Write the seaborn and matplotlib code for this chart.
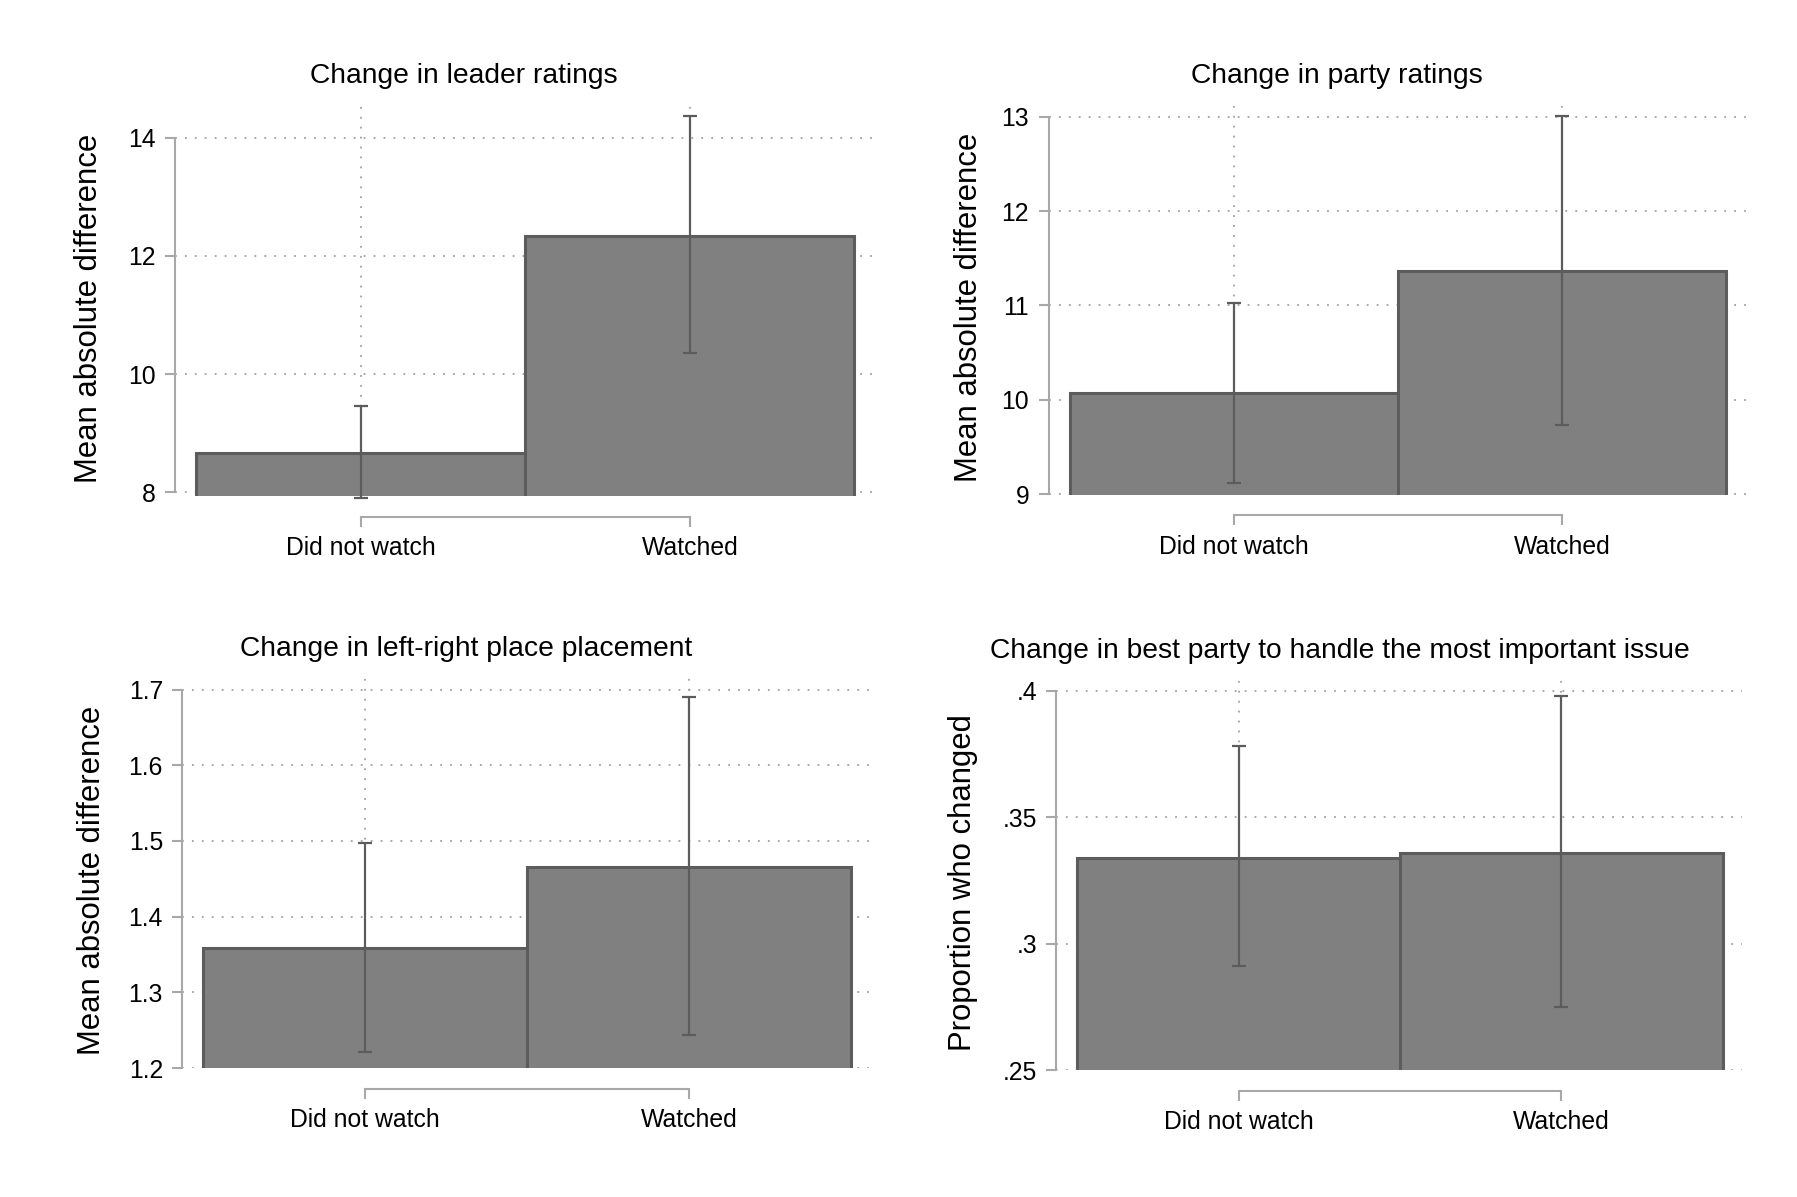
import numpy as np
import pandas as pd
import matplotlib
matplotlib.use("Agg")
import matplotlib.pyplot as plt
import seaborn as sns

categories = ["Did not watch", "Watched"]

# mean and confidence interval bounds
leader_mean = [8.67, 12.34]
leader_lo = [7.90, 10.36]
leader_hi = [9.46, 14.37]

party_mean = [10.07, 11.36]
party_lo = [9.12, 9.73]
party_hi = [11.03, 13.01]

lr_mean = [1.358, 1.465]
lr_lo = [1.221, 1.243]
lr_hi = [1.498, 1.690]

issue_mean = [0.334, 0.336]
issue_lo = [0.291, 0.275]
issue_hi = [0.378, 0.398]

titles = ["Change in leader ratings", "Change in party ratings",
          "Change in left-right place placement",
          "Change in best party to handle the most important issue"]
ylabels = ["Mean absolute difference", "Mean absolute difference",
           "Mean absolute difference", "Proportion who changed"]
yticks = [[8, 10, 12, 14], [9, 10, 11, 12, 13],
          [1.2, 1.3, 1.4, 1.5, 1.6, 1.7], [0.25, 0.30, 0.35, 0.40]]
yticklabels = [["8", "10", "12", "14"], ["9", "10", "11", "12", "13"],
               ["1.2", "1.3", "1.4", "1.5", "1.6", "1.7"],
               [".25", ".3", ".35", ".4"]]
ylims = [(7.937, 14.638), (8.995, 13.177), (1.2, 1.722), (0.25, 0.4064)]

sns.set_theme(style="white")
plt.rcParams["font.family"] = ["Liberation Sans", "DejaVu Sans"]
plt.rcParams["text.color"] = "black"
plt.rcParams["axes.labelcolor"] = "black"
plt.rcParams["xtick.labelcolor"] = "black"
plt.rcParams["ytick.labelcolor"] = "black"

W, H = 1797, 1197
fig = plt.figure(figsize=(W / 100, H / 100), dpi=100)

# panel boxes in pixels: left, right, top, bottom
boxes = [(175, 874, 100, 496), (1048.5, 1746, 100, 494.5),
         (182.4, 870, 673, 1068), (1056.4, 1742, 674.6, 1070)]
label_x = [-0.101, -0.093, -0.110, -0.114]

panels = [(leader_mean, leader_lo, leader_hi), (party_mean, party_lo, party_hi),
          (lr_mean, lr_lo, lr_hi), (issue_mean, issue_lo, issue_hi)]

spine_col = "#a8a8a8"
dark = "#5c5c5c"

for i, (means, lo, hi) in enumerate(panels):
    l, r, t, b = boxes[i]
    ax = fig.add_axes([l / W, 1 - b / H, (r - l) / W, (b - t) / H])
    df = pd.DataFrame({"group": categories, "value": means})
    sns.barplot(data=df, x="group", y="value", ax=ax, color="#808080",
                saturation=1, width=1.0, edgecolor=dark, linewidth=2.2,
                errorbar=None, zorder=2)
    centers = [p.get_x() + p.get_width() / 2 for p in ax.patches]
    m = np.array(means)
    yerr = [m - np.array(lo), np.array(hi) - m]
    ax.errorbar(centers, m, yerr=yerr, fmt="none", ecolor=dark,
                elinewidth=1.6, capsize=4.7, capthick=1.6, clip_on=False, zorder=3)

    ax.set_xlim(-0.565, 1.56)
    ax.set_ylim(*ylims[i])
    ax.set_yticks(yticks[i])
    ax.set_yticklabels(yticklabels[i])
    ax.set_xlabel("")
    ax.set_ylabel(ylabels[i], fontsize=22.4)
    ax.yaxis.set_label_coords(label_x[i], 0.475)

    ax.set_axisbelow(True)
    ax.grid(True, color="#a0a0a0", linestyle=(0, (1, 4.5)), linewidth=1.3)
    ax.tick_params(axis="both", length=7, width=1.5, color=spine_col,
                   labelsize=17.8, pad=7, left=True, bottom=True)
    for s in ax.spines.values():
        s.set_color(spine_col)
        s.set_linewidth(1.5)
    sns.despine(ax=ax, offset={"bottom": 15}, trim=True)

    ax.text(0.413, 1.06, titles[i], transform=ax.transAxes, ha="center",
            va="center", fontsize=20.3)

fig.savefig("out.png", dpi=100, facecolor="white")
